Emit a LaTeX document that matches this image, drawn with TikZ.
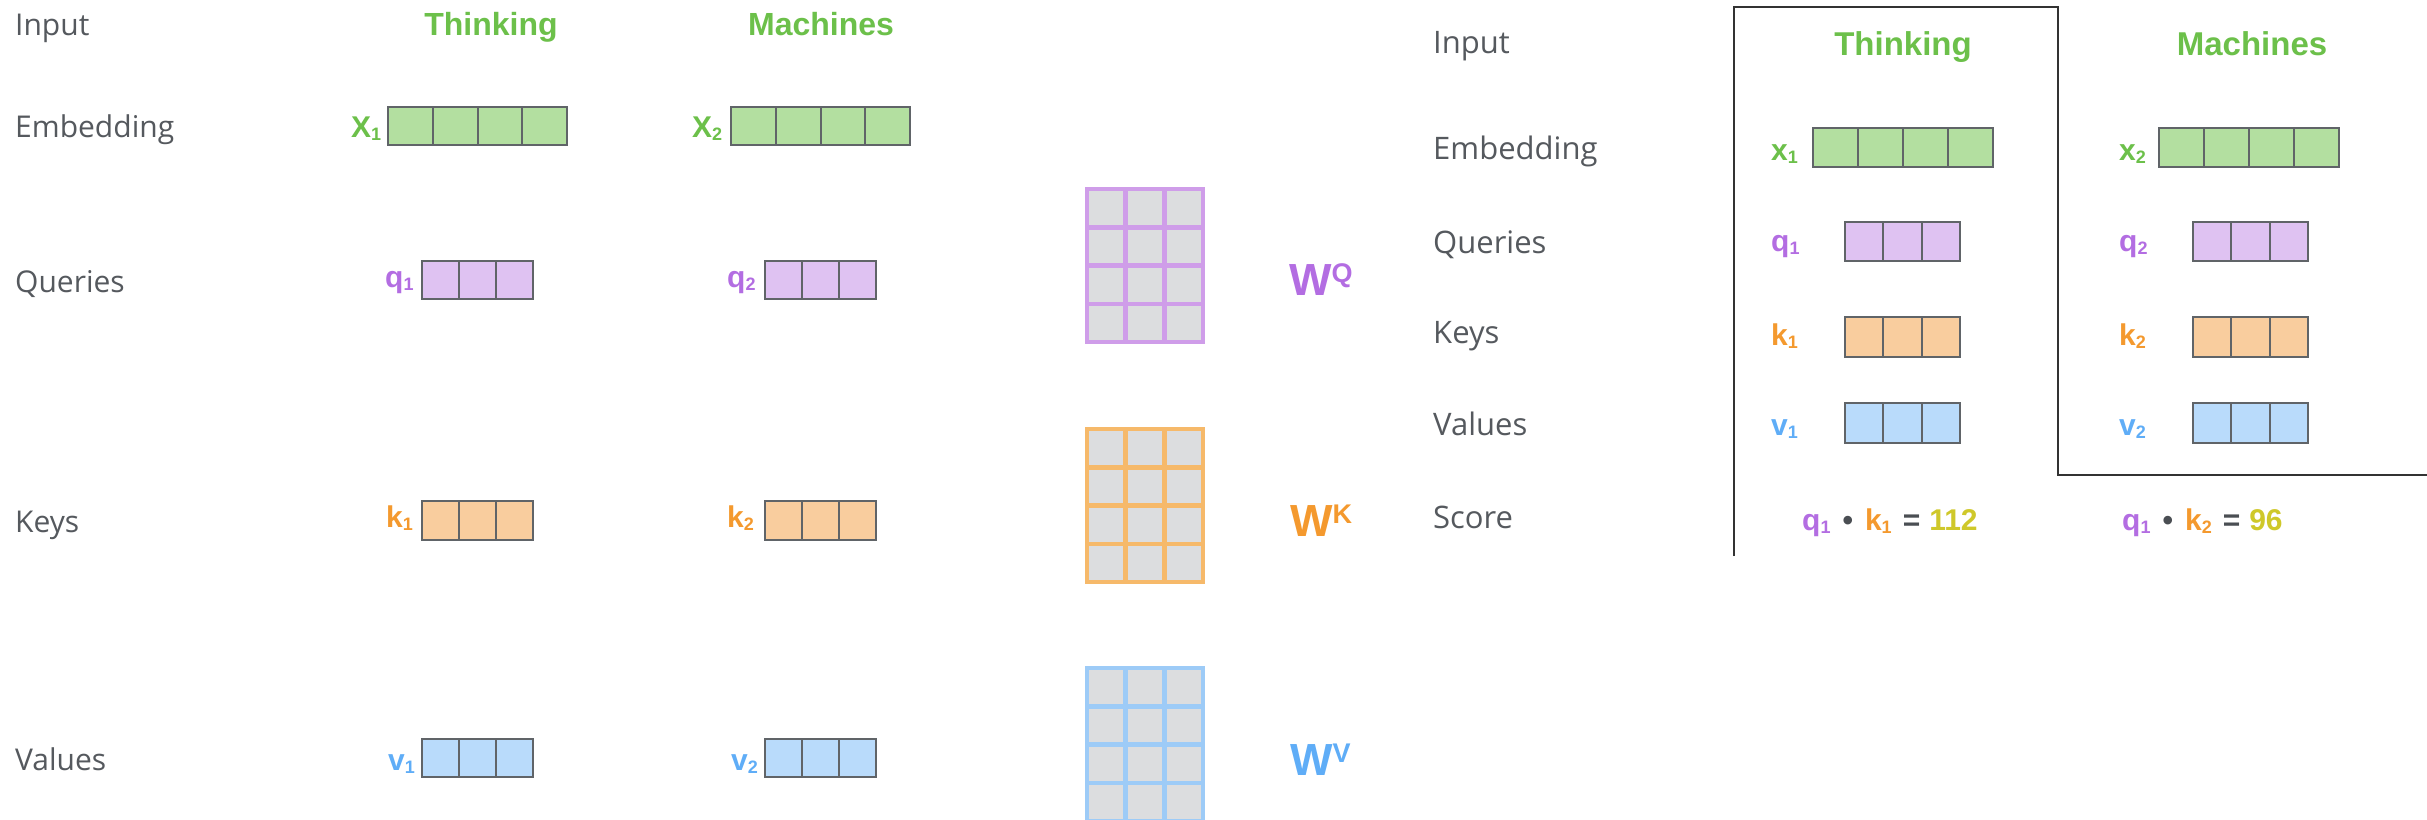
\documentclass[tikz,border=0pt]{standalone}
\usepackage{fontspec}
\setmainfont{Open Sans}
\newfontfamily\lsans{Liberation Sans}
\usetikzlibrary{calc}
\definecolor{labgray}{HTML}{55595E}
\definecolor{wordgreen}{HTML}{6CC04A}
\definecolor{qcol}{HTML}{B36DE2}
\definecolor{kcol}{HTML}{F4992E}
\definecolor{vcol}{HTML}{5FADF7}
\definecolor{ycol}{HTML}{CFC82A}
\definecolor{darkop}{HTML}{4A4E53}
\definecolor{gfill}{HTML}{B3DFA0}
\definecolor{pfill}{HTML}{DFC2F2}
\definecolor{ofill}{HTML}{F9CD9E}
\definecolor{bfill}{HTML}{B9DBFB}
\definecolor{boxedge}{HTML}{606468}
\definecolor{cellgray}{HTML}{DCDDDF}
\definecolor{pgrid}{HTML}{CF9DE9}
\definecolor{ogrid}{HTML}{F6B96A}
\definecolor{bgrid}{HTML}{9DCBF7}
\definecolor{framecol}{HTML}{333333}
\newcommand{\sbs}[1]{\raisebox{-3pt}{\fontsize{18}{18}\selectfont #1}}
\tikzset{
  lab/.style={anchor=base west, inner sep=0pt, text=labgray, font=\fontsize{30}{36}\selectfont},
  labR/.style={lab, font=\fontsize{31}{37}\selectfont},
  word/.style={anchor=base, inner sep=0pt, text=wordgreen, font=\lsans\bfseries\fontsize{32}{38}\selectfont},
  wordR/.style={word, font=\lsans\bfseries\fontsize{33}{39}\selectfont},
  vlab/.style={anchor=base west, inner sep=0pt, font=\lsans\bfseries\fontsize{30}{36}\selectfont},
  wlab/.style={anchor=base west, inner sep=0pt, font=\lsans\bfseries\fontsize{45}{50}\selectfont},
  cellbox/.style={draw=boxedge, line width=2pt, inner sep=0pt, outer sep=0pt},
  cellline/.style={draw=boxedge, line width=2pt},
  matbox/.style={fill=cellgray, line width=4.5pt, inner sep=0pt, outer sep=0pt, minimum width=116pt, minimum height=153pt},
  frameline/.style={draw=framecol, line width=2.5pt}
}
% name, left x, top y, number of cells, cell width, height, fill
\newcommand{\cellrow}[7]{%
  \node[cellbox, fill=#7, minimum width={#4*#5pt}, minimum height={#6pt}, anchor=north west] (#1) at (#2,#3) {};
  \pgfmathtruncatemacro{\ndiv}{#4-1}%
  \foreach \i in {1,...,\ndiv}{\draw[cellline] ($(#1.north west)+(\i*#5,0)$) -- ($(#1.south west)+(\i*#5,0)$);}%
}
% name, left x, top y, colour
\newcommand{\wmat}[4]{%
  \node[matbox, draw=#4, anchor=north west] (#1) at (#2,#3) {};
  \foreach \i in {1,2}{\draw[line width=4.5pt, draw=#4] ($(#1.north west)+(\i*38.67,0)$) -- ($(#1.south west)+(\i*38.67,0)$);}%
  \foreach \j in {1,2,3}{\draw[line width=4.5pt, draw=#4] ($(#1.north west)+(0,\j*38.25)$) -- ($(#1.north east)+(0,\j*38.25)$);}%
}
\begin{document}
\begin{tikzpicture}[x=1pt, y=-1pt]
\useasboundingbox[fill=white] (0,0) rectangle (2427,819);

% ---------------- left part ----------------
\node[lab] (inL) at (15,35) {Input};
\node[lab] (embL) at (15,137) {Embedding};
\node[lab] (qryL) at (15,292) {Queries};
\node[lab] (keyL) at (15,532) {Keys};
\node[lab] (valL) at (15,770) {Values};
\node[word] (thL) at (491,35) {Thinking};
\node[word] (maL) at (821,35) {Machines};

\node[vlab, text=wordgreen] (x1L) at (351,137) {X\sbs{1}};
\node[vlab, text=wordgreen] (x2L) at (692,137) {X\sbs{2}};
\node[vlab, text=qcol] (q1L) at (385,287) {q\sbs{1}};
\node[vlab, text=qcol] (q2L) at (727,287) {q\sbs{2}};
\node[vlab, text=kcol] (k1L) at (386,527) {k\sbs{1}};
\node[vlab, text=kcol] (k2L) at (727,527) {k\sbs{2}};
\node[vlab, text=vcol] (v1L) at (388,770) {v\sbs{1}};
\node[vlab, text=vcol] (v2L) at (731,770) {v\sbs{2}};

\cellrow{ex1L}{388}{107}{4}{44.75}{38}{gfill}
\cellrow{ex2L}{731}{107}{4}{44.75}{38}{gfill}
\cellrow{eq1L}{422}{261}{3}{37}{38}{pfill}
\cellrow{eq2L}{765}{261}{3}{37}{38}{pfill}
\cellrow{ek1L}{422}{501}{3}{37}{39}{ofill}
\cellrow{ek2L}{765}{501}{3}{37}{39}{ofill}
\cellrow{ev1L}{422}{739}{3}{37}{38}{bfill}
\cellrow{ev2L}{765}{739}{3}{37}{38}{bfill}

% weight matrices
\wmat{WQm}{1087}{189}{pgrid}
\wmat{WKm}{1087}{429}{ogrid}
\wmat{WVm}{1087}{668}{bgrid}
\node[wlab, text=qcol] (WQ) at (1289,295) {W\raisebox{13pt}{\fontsize{27}{27}\selectfont Q}};
\node[wlab, text=kcol] (WK) at (1290,536) {W\raisebox{13pt}{\fontsize{27}{27}\selectfont K}};
\node[wlab, text=vcol] (WV) at (1290,775) {W\raisebox{13pt}{\fontsize{27}{27}\selectfont V}};

% ---------------- right part ----------------
\draw[frameline] (1734,556) -- (1734,7) -- (2058,7) -- (2058,475) -- (2430,475);

\node[labR] (inR) at (1433,53) {Input};
\node[labR] (embR) at (1433,159) {Embedding};
\node[labR] (qryR) at (1433,253) {Queries};
\node[labR] (keyR) at (1433,343) {Keys};
\node[labR] (valR) at (1433,435) {Values};
\node[labR] (scR) at (1433,528) {Score};
\node[wordR] (thR) at (1903,55) {Thinking};
\node[wordR] (maR) at (2252,55) {Machines};

\node[vlab, text=wordgreen] (x1R) at (1771,160) {x\sbs{1}};
\node[vlab, text=wordgreen] (x2R) at (2119,160) {x\sbs{2}};
\node[vlab, text=qcol] (q1R) at (1771,251) {q\sbs{1}};
\node[vlab, text=qcol] (q2R) at (2119,251) {q\sbs{2}};
\node[vlab, text=kcol] (k1R) at (1771,345) {k\sbs{1}};
\node[vlab, text=kcol] (k2R) at (2119,345) {k\sbs{2}};
\node[vlab, text=vcol] (v1R) at (1771,435) {v\sbs{1}};
\node[vlab, text=vcol] (v2R) at (2119,435) {v\sbs{2}};

\cellrow{ex1R}{1813}{128}{4}{45}{39}{gfill}
\cellrow{ex2R}{2159}{128}{4}{45}{39}{gfill}
\cellrow{eq1R}{1845}{222}{3}{38.3}{39}{pfill}
\cellrow{eq2R}{2193}{222}{3}{38.3}{39}{pfill}
\cellrow{ek1R}{1845}{317}{3}{38.3}{40}{ofill}
\cellrow{ek2R}{2193}{317}{3}{38.3}{40}{ofill}
\cellrow{ev1R}{1845}{403}{3}{38.3}{40}{bfill}
\cellrow{ev2R}{2193}{403}{3}{38.3}{40}{bfill}

\node[vlab] (s1) at (1802,530) {\textcolor{qcol}{q\sbs{1}}\hspace{12pt}\textcolor{darkop}{•}\hspace{12pt}\textcolor{kcol}{k\sbs{1}}\hspace{11pt}\textcolor{darkop}{=}\hspace{9pt}\textcolor{ycol}{112}};
\node[vlab] (s2) at (2122,530) {\textcolor{qcol}{q\sbs{1}}\hspace{12pt}\textcolor{darkop}{•}\hspace{12pt}\textcolor{kcol}{k\sbs{2}}\hspace{11pt}\textcolor{darkop}{=}\hspace{9pt}\textcolor{ycol}{96}};
\end{tikzpicture}
\end{document}
